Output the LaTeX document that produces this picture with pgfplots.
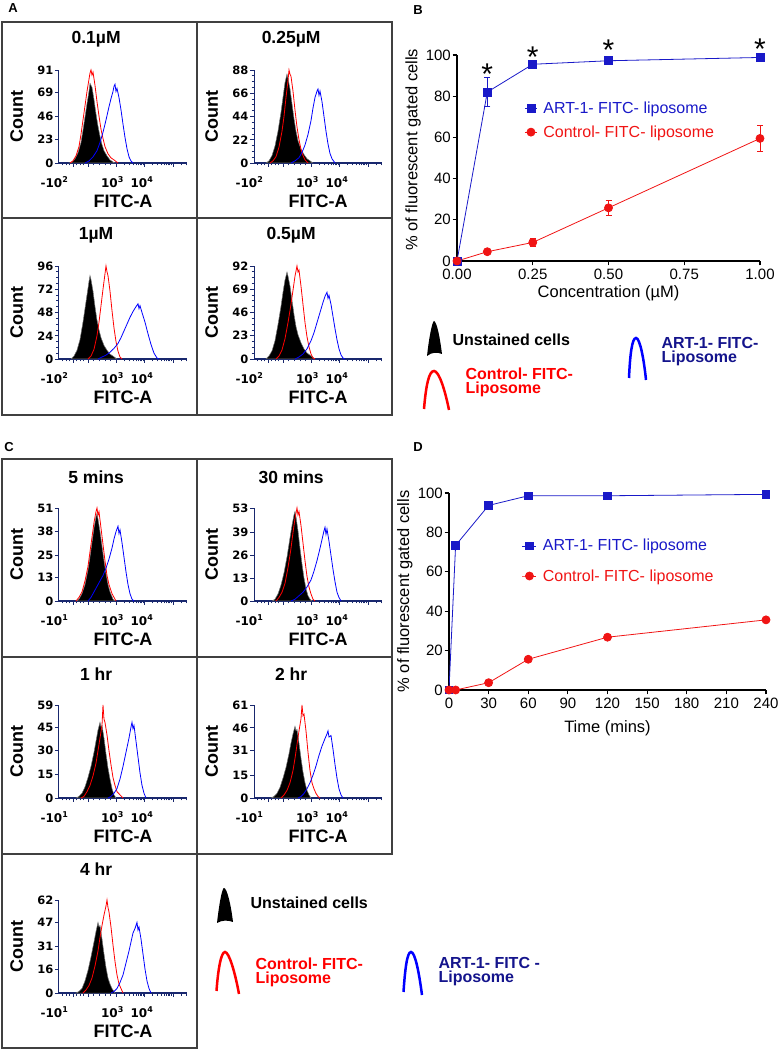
\documentclass[border=0pt]{standalone}
\usepackage{fontspec}
\setmainfont{Liberation Sans}
\newfontfamily\dejavu{DejaVu Sans}
\usepackage{pgfplots}
\pgfplotsset{compat=1.18}
\definecolor{navy}{RGB}{25,40,110}
\definecolor{gblue}{RGB}{25,25,200}
\definecolor{gred}{RGB}{240,20,20}
\definecolor{lgnavy}{RGB}{20,20,140}
\newcommand{\fs}[1]{\fontsize{#1}{#1}\selectfont}
\tikzset{ftick/.style={font=\dejavu\bfseries\fs{12}, anchor=center, yshift=-19pt, inner sep=0pt}}
\newcommand{\fitcticks}[1]{%
  \node[ftick] at (axis cs:-4.5,0) {-10\textsuperscript{#1}};
  \node[ftick] at (axis cs:53.5,0) {10\textsuperscript{3}};
  \node[ftick] at (axis cs:83,0) {10\textsuperscript{4}};}
\pgfplotsset{
  flow/.style={
    scale only axis, width=128pt, height=93pt, anchor=south west,
    xmin=0, xmax=128, ymin=0, clip=false,
    axis x line*=bottom, axis y line*=left,
    x axis line style={navy, line width=1.5pt},
    y axis line style={navy, line width=1pt},
    tick align=outside, tick style={navy, line width=0.8pt},
    major tick length=4pt, minor tick length=2.5pt,
    xtick={14,29,57,85,114}, xticklabels={},
    minor xtick={3,7,10,17,21,24,34,40,46,51,65,70,74,77,79,81,82,84,93,98,102,105,107,109,110,112,122,127},
    minor y tick num=3,
    /pgf/number format/assume math mode=true,
    yticklabel style={font=\dejavu\bfseries\fs{11.5}, inner sep=1.5pt},
    ylabel={Count}, xlabel={FITC-A},
    label style={font=\bfseries\fs{18}},
    xlabel style={at={(axis description cs:0.5,-0.41)}, anchor=center},
    ylabel style={at={(axis description cs:-0.33,0.5)}, anchor=center},
    title style={at={(axis description cs:0.29,1.27)}, anchor=center, font=\bfseries\fs{17.5}},
  },
  unst/.style={fill=black, draw=black!55, line width=0.5pt},
  ctrl/.style={red, line width=0.8pt},
  art/.style={blue, line width=0.8pt},
  gp/.style={
    scale only axis, anchor=south west, clip=false,
    axis x line*=bottom, axis y line*=left,
    axis line style={line width=1.2pt},
    tick align=outside, tick style={black, line width=1.1pt}, major tick length=4.5pt,
    /pgf/number format/assume math mode=true,
    tick label style={font=\fs{15}},
    yticklabel style={inner sep=1.5pt},
    label style={font=\fs{16.5}},
    legend style={draw=none, fill=none, font=\fs{16}, inner sep=0pt, outer sep=0pt, nodes={inner sep=0pt}, column sep=6pt},
    legend cell align=left,
  },
}
\begin{document}
\begin{tikzpicture}[x=1pt,y=1pt]
\path[use as bounding box] (0,0) rectangle (778,1050);

% frames
\draw[black!75, line width=1.2pt] (2,1028) rectangle (392,635);
\draw[black!75, line width=1.2pt] (197,1028) -- (197,635) (2,832) -- (392,832);
\draw[black!75, line width=1.2pt] (2,196) -- (2,591) -- (392,591) -- (392,196) -- cycle;
\draw[black!75, line width=1.2pt] (2,393) -- (392,393) (197,591) -- (197,2) -- (2,2) -- (2,196);

\node[font=\bfseries\fs{13}] at (13,1042) {A};
\node[font=\bfseries\fs{13}] at (418,1040) {B};
\node[font=\bfseries\fs{13}] at (9,603) {C};
\node[font=\bfseries\fs{13}] at (418,603) {D};

% ---------- panel A ----------
\begin{axis}[flow, at={(59pt,887pt)}, ymax=91, ytick={0,23,46,69,91}, title={0.1µM}]
\addplot[unst] coordinates {(10,0)(13,1)(16,4)(19,10)(22,20)(24,32)(26,45)(28,58)(30,70)(31,78)(33,74)(35,62)(37,48)(39,36)(41,26)(43,18)(45,12)(48,7)(51,3)(54,1)(56,0)} \closedcycle;
\addplot[ctrl] coordinates {(11,0)(14,2)(17,7)(20,16)(22,28)(24,42)(26,56)(28,70)(30,82)(31,88)(32,91)(33,86)(34,89)(36,76)(38,60)(40,46)(42,33)(44,24)(46,16)(49,9)(52,5)(55,3)(59,0)};
\addplot[art] coordinates {(26,0)(30,2)(34,6)(38,12)(41,20)(44,30)(47,42)(50,55)(52,63)(54,70)(55,75)(56,77)(57,70)(58,73)(60,64)(62,52)(64,38)(66,25)(68,14)(70,6)(72,2)(74,0)};
\fitcticks{2}
\end{axis}

\begin{axis}[flow, at={(254pt,887pt)}, ymax=88, ytick={0,22,44,66,88}, title={0.25µM}]
\addplot[unst] coordinates {(12,0)(15,2)(18,7)(21,16)(24,30)(27,48)(29,62)(31,76)(33,84)(34,80)(36,70)(38,56)(40,42)(42,30)(44,21)(47,13)(50,8)(53,4)(56,2)(59,0)} \closedcycle;
\addplot[ctrl] coordinates {(16,0)(19,2)(22,6)(25,15)(28,30)(30,44)(32,62)(34,78)(35,88)(36,84)(37,82)(39,68)(41,50)(43,34)(45,22)(47,13)(49,7)(51,3)(54,0)};
\addplot[art] coordinates {(37,0)(41,2)(45,5)(48,10)(51,17)(54,27)(57,40)(59,52)(61,62)(63,68)(64,70)(65,64)(66,68)(68,58)(70,44)(72,30)(74,18)(76,9)(78,4)(81,0)};
\fitcticks{2}
\end{axis}

\begin{axis}[flow, at={(59pt,691pt)}, ymax=96, ytick={0,24,48,72,96}, title={1µM}]
\addplot[unst] coordinates {(12,0)(15,3)(18,9)(21,20)(24,38)(26,52)(28,66)(30,80)(31,86)(32,82)(34,70)(36,54)(38,40)(40,30)(42,22)(45,14)(48,9)(51,5)(54,3)(58,0)} \closedcycle;
\addplot[ctrl] coordinates {(29,0)(32,3)(35,10)(38,24)(40,38)(42,55)(44,72)(46,88)(47,96)(48,90)(49,86)(51,70)(53,50)(55,32)(57,18)(59,8)(61,2)(63,0)};
\addplot[art] coordinates {(39,0)(43,2)(47,4)(51,7)(55,11)(59,16)(62,22)(65,29)(68,36)(71,43)(74,49)(77,54)(79,57)(80,52)(81,55)(83,48)(86,38)(89,26)(92,15)(95,6)(98,1)(100,0)};
\fitcticks{2}
\end{axis}

\begin{axis}[flow, at={(254pt,691pt)}, ymax=92, ytick={0,23,46,69,92}, title={0.5µM}]
\addplot[unst] coordinates {(12,0)(15,3)(18,8)(21,18)(24,34)(27,52)(29,66)(31,78)(33,86)(34,82)(36,72)(38,58)(40,44)(42,32)(44,24)(47,16)(50,10)(53,6)(57,3)(61,0)} \closedcycle;
\addplot[ctrl] coordinates {(22,0)(25,3)(28,9)(31,20)(34,36)(37,54)(39,68)(41,82)(43,92)(44,86)(45,88)(47,72)(49,54)(51,36)(53,22)(55,12)(57,5)(59,1)(61,0)};
\addplot[art] coordinates {(41,0)(45,2)(49,5)(53,10)(57,18)(60,26)(63,36)(66,46)(69,56)(71,62)(73,66)(74,60)(75,63)(77,54)(79,42)(81,30)(83,19)(85,10)(87,4)(89,1)(91,0)};
\fitcticks{2}
\end{axis}

% legend for A
\fill[black] (427,694) .. controls (429,712) and (432,728) .. (434,729) .. controls (437,728) and (440,712) .. (442,696) .. controls (437,698) and (432,698) .. cycle;
\node[anchor=west, font=\bfseries\fs{16}] at (449,710) {Unstained cells};
\draw[red, line width=2.5pt] (424,641) .. controls (426,665) and (429,679) .. (434,679) .. controls (439,679) and (445,660) .. (449,640);
\node[anchor=west, font=\bfseries\fs{16}, text=red, align=left] at (462,667.5) {Control- FITC-\\[-2pt]Liposome};
\draw[blue, line width=2.5pt] (629,672) .. controls (630,695) and (632,712) .. (636,712) .. controls (640,712) and (644,690) .. (646,670);
\node[anchor=west, font=\bfseries\fs{16}, text=lgnavy, align=left] at (658,698) {ART-1- FITC-\\[-2pt]Liposome};

% ---------- panel B ----------
\begin{axis}[gp, at={(457pt,789pt)}, width=303pt, height=206pt,
  xmin=0, xmax=1, ymin=0, ymax=100,
  xtick={0,0.25,0.5,0.75,1}, xticklabels={0.00,0.25,0.50,0.75,1.00},
  ytick={0,20,40,60,80,100},
  xlabel={Concentration (µM)}, ylabel={\% of fluorescent gated cells},
  xlabel style={at={(axis description cs:0.5,-0.155)}, anchor=center},
  ylabel style={at={(axis description cs:-0.145,0.54)}, anchor=center},
  legend style={at={(axis cs:0.223,68.4)}, anchor=west, row sep=11pt},
  legend image code/.code={\draw[mark repeat=2, mark phase=2, #1] plot coordinates {(0pt,0pt)(6pt,0pt)(12pt,0pt)};}]
\addplot[gblue, line width=0.8pt, mark=square*, mark size=4pt,
  error bars/.cd, y dir=both, y explicit, error bar style={line width=1pt}, error mark options={rotate=90, mark size=3pt, line width=1pt}]
  coordinates {(0,0) +- (0,0) (0.1,82) +- (0,7) (0.25,95.5) +- (0,0.8) (0.5,97.2) +- (0,0.6) (1,98.8) +- (0,0.5)};
\addlegendentry{\textcolor{gblue}{ART-1- FITC- liposome}}
\addplot[gred, line width=0.8pt, mark=*, mark size=4pt,
  error bars/.cd, y dir=both, y explicit, error bar style={line width=1pt}, error mark options={rotate=90, mark size=3pt, line width=1pt}]
  coordinates {(0,0) +- (0,0) (0.1,4.5) +- (0,0.6) (0.25,9) +- (0,2) (0.5,25.8) +- (0,3.6) (1,59.5) +- (0,6.5)};
\addlegendentry{\textcolor{gred}{Control- FITC- liposome}}
\node[font=\fs{30}, anchor=base, yshift=-17pt] at (axis cs:0.1,94) {*};
\node[font=\fs{30}, anchor=base, yshift=-17pt] at (axis cs:0.25,102.4) {*};
\node[font=\fs{30}, anchor=base, yshift=-17pt] at (axis cs:0.5,105.8) {*};
\node[font=\fs{30}, anchor=base, yshift=-17pt] at (axis cs:1,106.3) {*};
\end{axis}

% ---------- panel C ----------
\begin{axis}[flow, at={(59pt,449pt)}, ymax=51, ytick={0,13,25,38,51}, title={5 mins}]
\addplot[unst] coordinates {(17,0)(20,1)(23,4)(26,9)(29,17)(31,24)(33,32)(35,40)(37,46)(38,48)(39,45)(41,38)(43,30)(45,22)(47,15)(49,9)(51,5)(54,1)(56,0)} \closedcycle;
\addplot[ctrl] coordinates {(17,0)(20,2)(23,5)(26,11)(29,19)(31,27)(33,35)(35,43)(37,49)(38,51)(39,47)(40,49)(42,40)(44,31)(46,22)(48,14)(50,9)(53,4)(57,0)};
\addplot[art] coordinates {(29,0)(32,2)(35,5)(38,8)(41,11)(44,14)(47,18)(50,23)(53,29)(55,34)(57,38)(59,41)(60,37)(61,39)(63,32)(65,24)(67,16)(69,9)(71,4)(73,1)(75,0)};
\fitcticks{1}
\end{axis}

\begin{axis}[flow, at={(254pt,449pt)}, ymax=53, ytick={0,13,26,39,53}, title={30 mins}]
\addplot[unst] coordinates {(18,0)(21,1)(24,4)(27,9)(30,16)(33,25)(36,36)(38,43)(40,49)(41,51)(42,48)(44,40)(46,30)(48,21)(50,13)(52,7)(54,3)(56,1)(58,0)} \closedcycle;
\addplot[ctrl] coordinates {(22,0)(25,2)(28,5)(31,10)(34,19)(37,30)(39,39)(41,47)(43,53)(44,49)(45,51)(47,43)(49,33)(51,23)(53,14)(55,8)(57,4)(59,1)(61,0)};
\addplot[art] coordinates {(37,0)(41,1)(45,3)(49,5)(53,8)(57,12)(60,17)(63,23)(66,30)(68,35)(70,40)(71,42)(72,38)(73,41)(75,34)(77,26)(79,18)(81,11)(83,5)(85,2)(87,0)};
\fitcticks{1}
\end{axis}

\begin{axis}[flow, at={(59pt,252pt)}, ymax=59, ytick={0,15,30,45,59}, title={1 hr}]
\addplot[unst] coordinates {(17,0)(20,1)(23,3)(26,7)(29,13)(32,20)(35,29)(37,36)(39,43)(41,48)(42,45)(43,46)(45,38)(47,28)(49,19)(51,12)(53,6)(55,2)(57,0)} \closedcycle;
\addplot[ctrl] coordinates {(22,0)(25,1)(28,4)(31,8)(34,14)(37,22)(39,30)(41,38)(43,46)(44,59)(45,50)(46,48)(48,40)(50,30)(52,21)(54,13)(56,8)(58,4)(61,2)(64,0)};
\addplot[art] coordinates {(49,0)(52,1)(55,3)(58,6)(61,12)(64,20)(66,26)(68,32)(70,38)(72,45)(73,48)(74,44)(75,46)(77,36)(79,26)(81,16)(83,8)(85,3)(87,0)};
\fitcticks{1}
\end{axis}

\begin{axis}[flow, at={(254pt,252pt)}, ymax=61, ytick={0,15,31,46,61}, title={2 hr}]
\addplot[unst] coordinates {(17,0)(20,1)(23,3)(26,7)(29,13)(32,20)(35,29)(37,36)(39,42)(41,47)(42,44)(43,45)(45,36)(47,26)(49,17)(51,10)(53,5)(55,2)(57,0)} \closedcycle;
\addplot[ctrl] coordinates {(27,0)(30,2)(33,5)(36,10)(39,18)(41,26)(43,35)(45,44)(47,52)(48,61)(49,54)(50,55)(52,44)(54,30)(56,18)(58,10)(60,6)(62,3)(64,1)(66,0)};
\addplot[art] coordinates {(44,0)(47,1)(50,3)(53,6)(56,10)(59,15)(62,21)(65,28)(68,34)(71,39)(73,42)(74,44)(75,40)(77,41)(79,32)(81,22)(83,13)(85,6)(87,2)(89,0)};
\fitcticks{1}
\end{axis}

\begin{axis}[flow, at={(59pt,57pt)}, ymax=62, ytick={0,16,31,47,62}, title={4 hr}]
\addplot[unst] coordinates {(17,0)(20,1)(23,3)(26,8)(29,15)(32,24)(35,34)(37,41)(39,47)(40,44)(41,45)(43,36)(45,26)(47,17)(49,10)(51,6)(53,3)(56,0)} \closedcycle;
\addplot[ctrl] coordinates {(24,0)(27,2)(30,5)(33,10)(36,18)(39,28)(41,37)(43,45)(45,52)(47,58)(48,62)(49,57)(50,54)(52,44)(54,32)(56,21)(58,12)(60,6)(62,3)(64,0)};
\addplot[art] coordinates {(52,0)(55,1)(58,3)(61,7)(64,12)(67,20)(70,28)(72,34)(74,40)(76,43)(78,47)(79,42)(80,44)(82,36)(84,26)(86,16)(88,8)(90,3)(92,0)};
\fitcticks{1}
\end{axis}

% legend for C
\fill[black] (217,127) .. controls (219,145) and (222,162) .. (224,162) .. controls (227,162) and (231,145) .. (233,128) .. controls (228,130) and (222,130) .. cycle;
\node[anchor=west, font=\bfseries\fs{16}] at (247,147) {Unstained cells};
\draw[red, line width=2.5pt] (216.5,59) .. controls (218,80) and (221,98) .. (225,98) .. controls (229,98) and (235,78) .. (239,56);
\node[anchor=west, font=\bfseries\fs{16}, text=red, align=left] at (252,78) {Control- FITC-\\[-2pt]Liposome};
\draw[blue, line width=2.5pt] (403.5,58) .. controls (405,80) and (407,98) .. (411,98) .. controls (415,98) and (419,78) .. (422,55);
\node[anchor=west, font=\bfseries\fs{16}, text=lgnavy, align=left] at (435,78) {ART-1- FITC -\\[-2pt]Liposome};

% ---------- panel D ----------
\begin{axis}[gp, at={(449pt,360pt)}, width=317pt, height=197pt,
  xmin=0, xmax=240, ymin=0, ymax=100,
  xtick={0,30,60,90,120,150,180,210,240}, ytick={0,20,40,60,80,100},
  xlabel={Time (mins)}, ylabel={\% of fluorescent gated cells},
  xlabel style={at={(axis description cs:0.5,-0.195)}, anchor=center},
  ylabel style={at={(axis description cs:-0.139,0.5)}, anchor=center},
  legend style={at={(axis cs:55.3,65.5)}, anchor=west, row sep=17pt},
  legend image code/.code={\draw[mark repeat=2, mark phase=2, #1] plot coordinates {(0pt,0pt)(7pt,0pt)(14pt,0pt)};}]
\addplot[gblue, line width=0.8pt, mark=square*, mark size=3.8pt] coordinates {(0,0)(5,73.4)(30,93.7)(60,98.6)(120,98.6)(240,99.3)};
\addlegendentry{\textcolor{gblue}{ART-1- FITC- liposome}}
\addplot[gred, line width=0.8pt, mark=*, mark size=4pt] coordinates {(0,0)(5,0)(30,3.7)(60,15.6)(120,26.8)(240,35.6)};
\addlegendentry{\textcolor{gred}{Control- FITC- liposome}}
\end{axis}
\end{tikzpicture}
\end{document}
